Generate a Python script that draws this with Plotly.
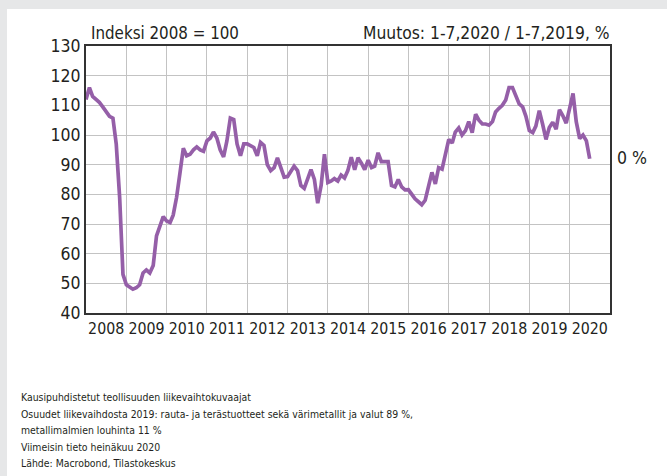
import pandas as pd
import plotly.graph_objects as go

# Monthly index values, Jan 2008 .. Jul 2020 (Indeksi 2008 = 100)
v2008 = [112, 116, 113, 112, 111, 109.5, 108, 106.3, 105.7, 97, 79, 53]
v2009 = [49.5, 48.5, 48, 48.5, 49.5, 53.5, 54.5, 53.5, 56, 66, 69.5, 72.5]
v2010 = [71, 70.5, 73, 79, 87, 95.5, 93, 93.5, 95, 96, 95, 94.5]
v2011 = [98, 99, 101, 99, 95, 92.6, 98, 105.7, 105.2, 97, 93, 97]
v2012 = [97, 96.2, 95.8, 93, 97.5, 96.5, 90, 88, 89, 92.3, 88.5, 85.8]
v2013 = [86, 88, 89.5, 88, 83, 82, 85, 88.3, 85, 77, 83, 93.5]
v2014 = [84, 84.5, 85.3, 84.5, 86.5, 85.5, 88, 92.5, 88.3, 92.3, 90.5, 88.3]
v2015 = [91.5, 89, 89.5, 94, 91, 91, 91, 83, 82.5, 85, 82.5, 81.5]
v2016 = [81.6, 80, 78.5, 77.5, 76.5, 78, 83, 87.4, 83.5, 89, 88.5, 94]
v2017 = [98.5, 97.3, 101, 102.4, 100, 101.5, 104.5, 100.8, 107, 105, 103.7, 103.7]
v2018 = [103.3, 104.5, 107.8, 109, 110, 111.8, 116, 116, 113.5, 110.5, 109.5, 106.3]
v2019 = [101.5, 100.8, 103, 108.2, 103.7, 98.5, 102.5, 104.3, 102, 108.5, 106.5, 104]
v2020 = [109, 114, 104.5, 98.8, 100, 98, 92]

values = v2008 + v2009 + v2010 + v2011 + v2012 + v2013 + v2014 + v2015 + v2016 + v2017 + v2018 + v2019 + v2020
dates = pd.date_range("2008-01-01", periods=len(values), freq="MS")

title_left = "Indeksi 2008 = 100"
title_right = "Muutos: 1-7,2020 / 1-7,2019, %"
change_label = "0 %"
footer_lines = [
    "Kausipuhdistetut teollisuuden liikevaihtokuvaajat",
    "Osuudet liikevaihdosta 2019: rauta- ja terästuotteet sekä värimetallit ja valut 89 %,",
    "metallimalmien louhinta 11 %",
    "Viimeisin tieto heinäkuu 2020",
    "Lähde: Macrobond, Tilastokeskus",
]

FONT = "Liberation Sans Narrow, Arial Narrow, DejaVu Sans Condensed, sans-serif"
W, H = 667, 476
L, R, T, B = 86, 57, 46, 163
PW, PH = W - L - R, H - T - B


def px(x):
    return (x - L) / PW


def py(y):
    return (H - B - y) / PH


fig = go.Figure()
fig.add_trace(go.Scatter(
    x=dates, y=values, mode="lines",
    line=dict(color="#955fa8", width=3.7),
    hoverinfo="skip", showlegend=False,
))

grid = "#c3c3c3"
annotations = [
    dict(text=title_left, xref="paper", yref="paper", x=px(89), y=py(33),
         xanchor="left", yanchor="middle", showarrow=False, font=dict(size=16.8)),
    dict(text=title_right, xref="paper", yref="paper", x=px(612), y=py(33),
         xanchor="right", yanchor="middle", showarrow=False, font=dict(size=17.3)),
    dict(text=change_label, xref="paper", yref="paper", x=px(615), y=py(158),
         xanchor="left", yanchor="middle", showarrow=False, font=dict(size=17.5)),
]
for i, line in enumerate(footer_lines):
    annotations.append(dict(
        text=line, xref="paper", yref="paper", x=px(19), y=py(397 + 16.6 * i),
        xanchor="left", yanchor="middle", align="left", showarrow=False,
        font=dict(size=10.4)))

fig.update_layout(
    width=W, height=H,
    margin=dict(l=L, r=R, t=T, b=B),
    paper_bgcolor="white", plot_bgcolor="white",
    font=dict(family=FONT, color="#231f20", size=17),
    xaxis=dict(
        type="date", range=["2008-01-01", "2021-01-01"],
        dtick="M12", tick0="2008-01-01", tickformat="%Y",
        ticklabelmode="period", ticks="",
        showgrid=True, gridcolor=grid, gridwidth=1.2,
        showline=True, linecolor="#333", linewidth=2, mirror=True,
        tickfont=dict(size=15.8), zeroline=False,
    ),
    yaxis=dict(
        range=[40, 130], dtick=10, tick0=40,
        showgrid=True, gridcolor=grid, gridwidth=1.2,
        showline=True, linecolor="#333", linewidth=2, mirror=True,
        ticks="", tickfont=dict(size=17.5), zeroline=False,
    ),
    shapes=[
        dict(type="rect", xref="paper", yref="paper", layer="below",
             x0=px(0), x1=px(W), y0=py(9), y1=py(0),
             fillcolor="#e6e7e8", line=dict(width=0)),
        dict(type="rect", xref="paper", yref="paper", layer="below",
             x0=px(0), x1=px(7), y0=py(H), y1=py(0),
             fillcolor="#e6e7e8", line=dict(width=0)),
    ],
    annotations=annotations,
)

fig.write_html("out.html")
